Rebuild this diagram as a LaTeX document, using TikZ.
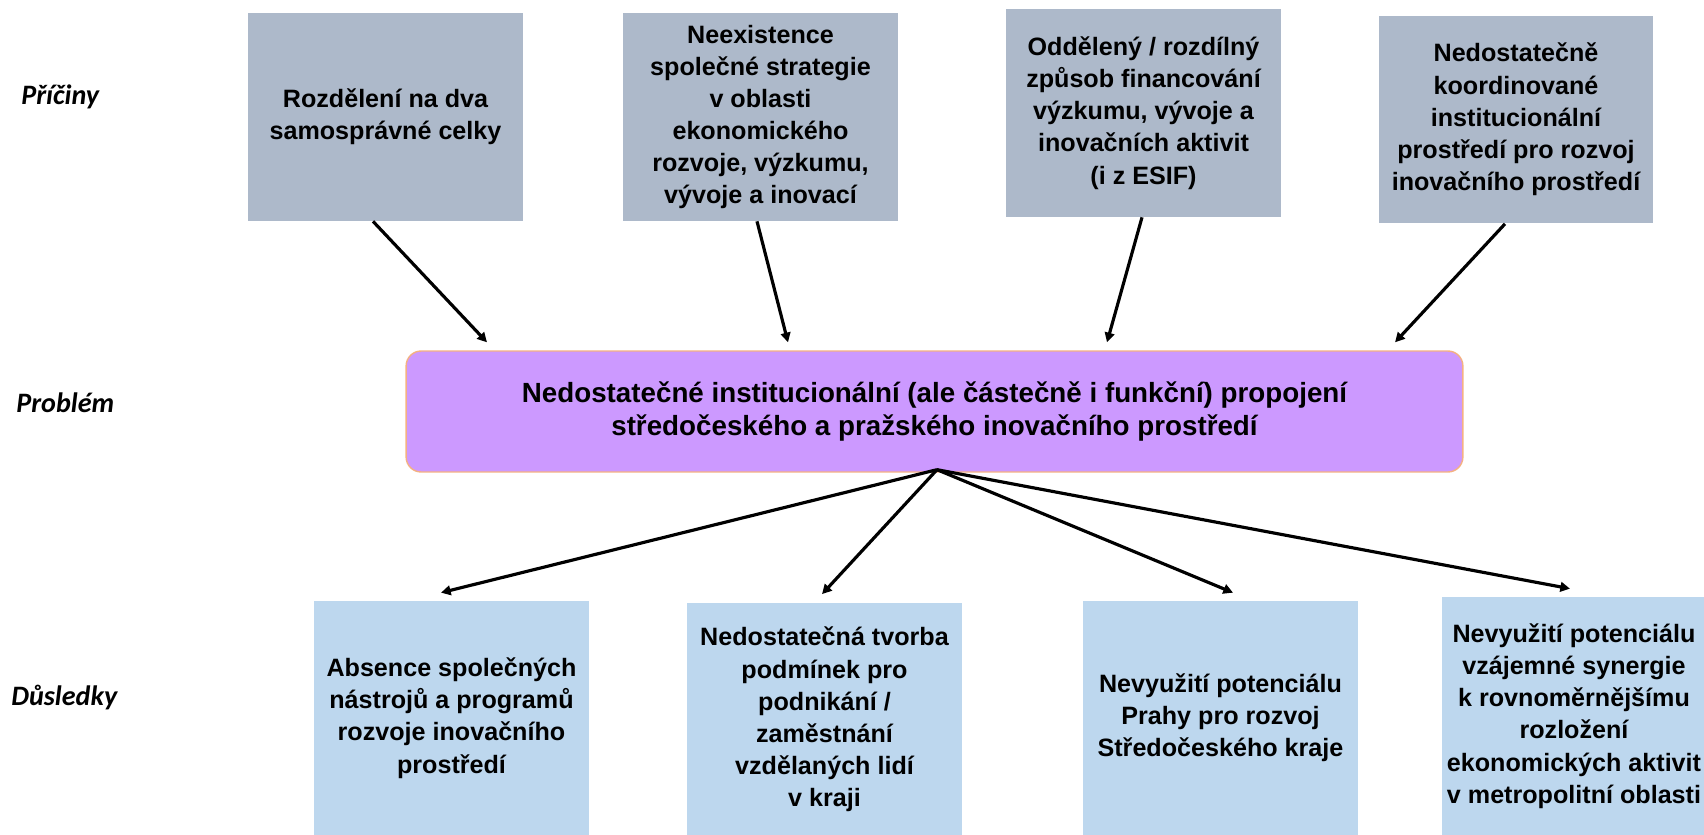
\documentclass[tikz,border=0pt]{standalone}
\usepackage{fontspec}
\setmainfont{Liberation Sans}
\newfontfamily\rowfont{Carlito}
\usepackage{tikz}
\usetikzlibrary{arrows.meta}
\definecolor{causegray}{HTML}{ADB9CA}
\definecolor{effectblue}{HTML}{BDD7EE}
\definecolor{problemviolet}{HTML}{CC99FF}
\definecolor{problemedge}{HTML}{F4B183}

\begin{document}
\begin{tikzpicture}[
        x=0.02cm, y=-0.02cm,
        every node/.append style={font=\bfseries\fontsize{14.3}{18.3}\selectfont}
    ]
    \tikzstyle{cause}=[fill=causegray,minimum width=5.5cm,minimum height=4.16cm,align=center,inner sep=0pt];
    \tikzstyle{effect}=[fill=effectblue,minimum width=5.5cm,minimum height=4.68cm,align=center,inner sep=0pt];
    \tikzstyle{row}=[anchor=west,inner sep=0pt,font=\rowfont\bfseries\itshape\fontsize{16}{19}\selectfont];
    \tikzstyle{arr}=[-{Triangle[length=5.5pt,width=5.5pt]},line width=1.8pt];
    \useasboundingbox (0,0) rectangle (1704,835);
    % row labels
    \node[row] (lcause) at (21,97) {Příčiny};
    \node[row] (lprob) at (16,403) {Problém};
    \node[row] (leff) at (11,698) {Důsledky};
    % causes
    \node[cause] (c1) at (385.5,117) {Rozdělení na dva\\samosprávné celky};
    \node[cause] (c2) at (760.5,117) {Neexistence\\společné strategie\\v oblasti\\ekonomického\\rozvoje, výzkumu,\\vývoje a inovací};
    \node[cause] (c3) at (1143.5,113) {Oddělený / rozdílný\\způsob financování\\výzkumu, vývoje a\\inovačních aktivit\\(i z ESIF)};
    \node[cause] (c4) at (1516,119.5) {Nedostatečně\\koordinované\\institucionální\\prostředí pro rozvoj\\inovačního prostředí};
    % problem
    \node[fill=problemviolet,draw=problemedge,line width=0.8pt,rounded corners=0.3cm,
        minimum width=21.14cm,minimum height=2.42cm,align=center,
        font=\bfseries\fontsize{15.8}{19.2}\selectfont] (prob) at (934.5,411.5)
        {Nedostatečné institucionální (ale částečně i funkční) propojení\\středočeského a pražského inovačního prostředí};
    % effects
    \node[effect] (e1) at (451.5,718) {Absence společných\\nástrojů a programů\\rozvoje inovačního\\prostředí};
    \node[effect] (e2) at (824.5,719.5) {Nedostatečná tvorba\\podmínek pro\\podnikání /\\zaměstnání\\vzdělaných lidí\\v kraji};
    \node[effect] (e3) at (1220.5,718) {Nevyužití potenciálu\\Prahy pro rozvoj\\Středočeského kraje};
    \node[effect,minimum width=5.28cm,minimum height=4.76cm] (e4) at (1574,716) {Nevyužití potenciálu\\vzájemné synergie\\k rovnoměrnějšímu\\rozložení\\ekonomických aktivit\\v metropolitní oblasti};
    % causes to problem
    \draw[arr] ([shift={(-12.5,0)}]c1.south) -- ([shift={(-447.5,-8)}]prob.north);
    \draw[arr] ([shift={(-3.5,0)}]c2.south) -- ([shift={(-146.5,-8)}]prob.north);
    \draw[arr] ([shift={(-1.5,0)}]c3.south) -- ([shift={(172.5,-8)}]prob.north);
    \draw[arr] ([shift={(-11,0)}]c4.south) -- ([shift={(460.5,-8)}]prob.north);
    % problem to effects
    \draw[arr] ([shift={(2.5,-3)}]prob.south) -- ([shift={(-10.5,-8)}]e1.north);
    \draw[arr] ([shift={(2.5,-3)}]prob.south) -- ([shift={(-2.5,-8)}]e2.north);
    \draw[arr] ([shift={(2.5,-3)}]prob.south) -- ([shift={(12.5,-8)}]e3.north);
    \draw[arr] ([shift={(2.5,-3)}]prob.south) -- ([shift={(-4,-8)}]e4.north);
\end{tikzpicture}
\end{document}
